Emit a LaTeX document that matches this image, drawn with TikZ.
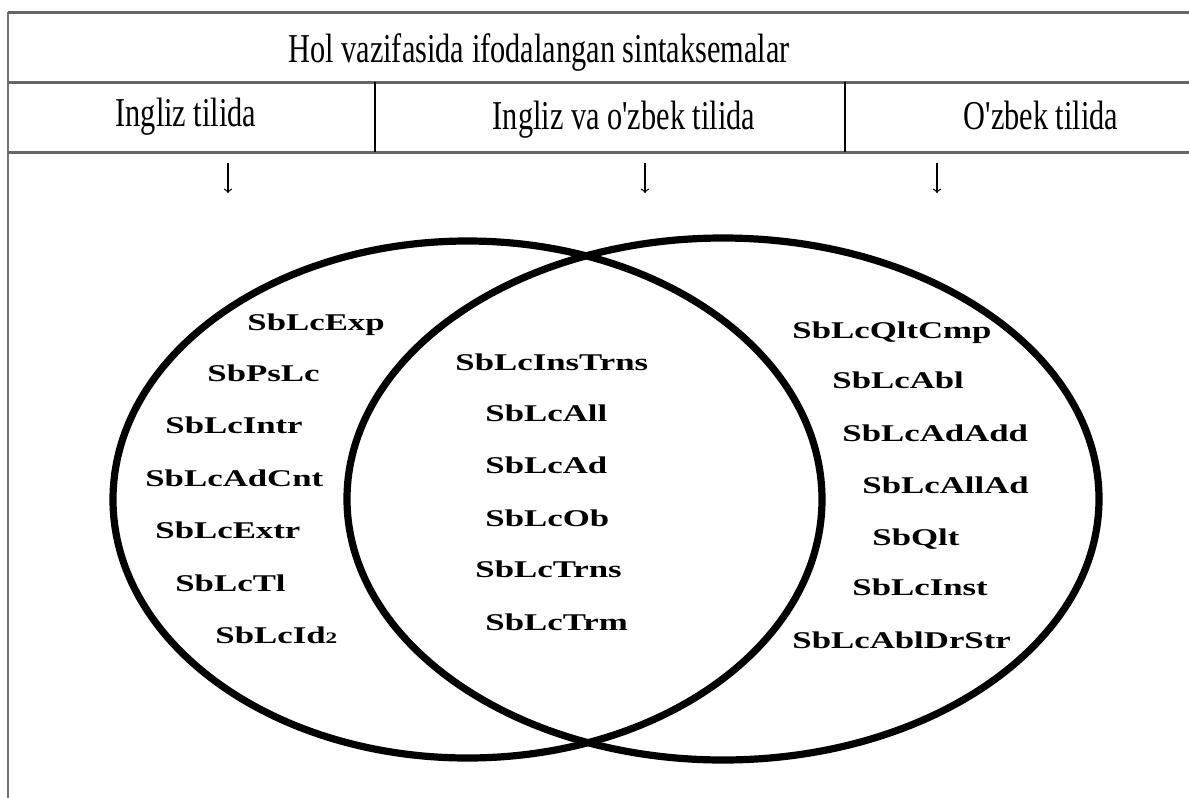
\documentclass[tikz,border=0pt]{standalone}
\usepackage{fontspec}
\setmainfont{Liberation Serif}
\newfontfamily\headfont[FakeStretch=0.74]{Liberation Serif}
\newfontfamily\labfont[FakeStretch=1.45]{Liberation Serif Bold}
\tikzset{
  head/.style={anchor=base,inner sep=0pt,font=\headfont\fontsize{20.5pt}{24pt}\selectfont},
  lab/.style={anchor=base west,inner sep=0pt,font=\labfont\fontsize{12pt}{14pt}\selectfont},
  rule/.style={draw=black!60,line width=1.5pt},
  venn/.style={line width=3.6pt}
}
\begin{document}
\begin{tikzpicture}[x=0.5pt,y=-0.5pt]
   \useasboundingbox (0,0) rectangle (1189,798);
   % table
   \draw [draw=black!55,line width=0.6pt] (8,12)--(8,798);
   \draw [rule] (8,12)--(1189,12);
   \draw [rule] (8,82)--(1189,82);
   \draw [rule] (8,152)--(1189,152);
   \draw [line width=0.6pt] (375,82)--(375,152);
   \draw [line width=0.6pt] (845,82)--(845,152);
   \node [head] (title) at (539,62) {Hol vazifasida ifodalangan sintaksemalar};
   \node [head] (eng) at (186,126) {Ingliz tilida};
   \node [head] (both) at (624,129) {Ingliz va o'zbek tilida};
   \node [head] (uzb) at (1041,129) {O'zbek tilida};
   % arrows
   \coordinate (a1) at (228,163);
   \coordinate (a2) at (645,163);
   \coordinate (a3) at (937,163);
   \draw [->,line width=0.6pt] (a1)--++(0,30);
   \draw [->,line width=0.6pt] (a2)--++(0,30);
   \draw [->,line width=0.6pt] (a3)--++(0,30);
   % venn
   \draw [venn] (467.5,499.5) ellipse [x radius=177.25pt,y radius=129.25pt];
   \draw [venn] (723,499) ellipse [x radius=188pt,y radius=130.5pt];
   % left part
   \node [lab] (l1) at (247,330) {SbLcExp};
   \node [lab] (l2) at (207,381) {SbPsLc};
   \node [lab] (l3) at (165,433) {SbLcIntr};
   \node [lab] (l4) at (145,486) {SbLcAdCnt};
   \node [lab] (l5) at (155,538) {SbLcExtr};
   \node [lab] (l6) at (175,591) {SbLcTl};
   \node [lab] (l7) at (215,643) {SbLcId{\fontsize{8pt}{8pt}\selectfont 2}};
   % common part
   \node [lab] (m1) at (455,370) {SbLcInsTrns};
   \node [lab] (m2) at (485,421) {SbLcAll};
   \node [lab] (m3) at (485,473) {SbLcAd};
   \node [lab] (m4) at (485,526) {SbLcOb};
   \node [lab] (m5) at (475,577) {SbLcTrns};
   \node [lab] (m6) at (485,630) {SbLcTrm};
   % right part
   \node [lab] (r1) at (792,338) {SbLcQltCmp};
   \node [lab] (r2) at (832,388) {SbLcAbl};
   \node [lab] (r3) at (842,441) {SbLcAdAdd};
   \node [lab] (r4) at (862,493) {SbLcAllAd};
   \node [lab] (r5) at (872,545) {SbQlt};
   \node [lab] (r6) at (852,595) {SbLcInst};
   \node [lab] (r7) at (792,648) {SbLcAblDrStr};
\end{tikzpicture}
\end{document}
